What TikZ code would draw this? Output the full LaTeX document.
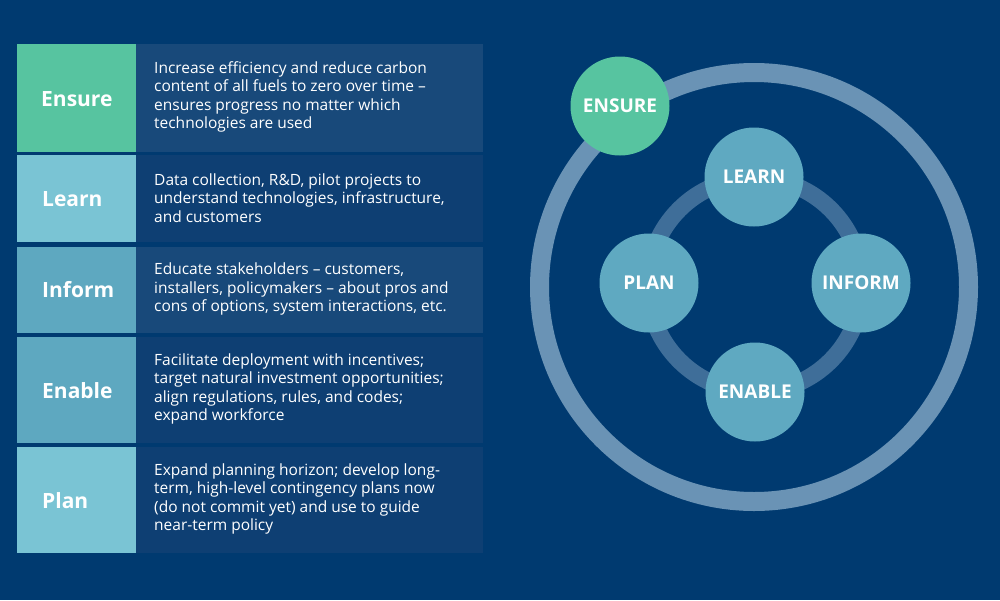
\documentclass[tikz,border=0pt]{standalone}
\usepackage{fontspec}
\setmainfont{Open Sans}
\definecolor{navy}{RGB}{0,58,112}
\definecolor{descA}{RGB}{24,73,122}
\definecolor{descB}{RGB}{14,63,115}
\definecolor{cgreen}{RGB}{87,196,160}
\definecolor{clight}{RGB}{122,196,212}
\definecolor{cmid}{RGB}{94,168,192}
\definecolor{ccirc}{RGB}{95,169,193}
\definecolor{outerring}{RGB}{106,147,181}
\definecolor{innerring}{RGB}{63,110,153}
\tikzset{
  desctext/.style={anchor=west, align=left, text=white, inner sep=0pt,
    font=\fontsize{15.5}{18.3}\selectfont},
  labeltext/.style={anchor=west, text=white, inner sep=0pt,
    font=\fontsize{21}{24}\selectfont\bfseries},
  stage/.style={circle, minimum size=99pt, inner sep=0pt, fill=ccirc, text=white,
    font=\fontsize{19}{22}\selectfont\bfseries},
}
\begin{document}
\begin{tikzpicture}[x=1pt,y=-1pt]
\fill[navy] (0,0) rectangle (1000,600);
\useasboundingbox (0,0) rectangle (1000,600);
% table rows
\fill[cgreen] (17,44) rectangle (136,152);
\fill[descA] (136,44) rectangle (483,152);
\fill[clight] (17,155) rectangle (136,242);
\fill[descB] (136,155) rectangle (483,242);
\fill[cmid] (17,247) rectangle (136,333);
\fill[descA] (136,247) rectangle (483,333);
\fill[cmid] (17,337) rectangle (136,443);
\fill[descB] (136,337) rectangle (483,443);
\fill[clight] (17,447) rectangle (136,553);
\fill[descB] (136,447) rectangle (483,553);
% labels
\node[labeltext] (lensure) at (41,99) {Ensure};
\node[labeltext] (llearn) at (42,199) {Learn};
\node[labeltext] (linform) at (42,290) {Inform};
\node[labeltext] (lenable) at (42,391) {Enable};
\node[labeltext] (lplan) at (42,501) {Plan};
% descriptions
\node[desctext] (densure) at (154,97) {Increase efficiency and reduce carbon\\content of all fuels to zero over time --\\ensures progress no matter which\\technologies are used};
\node[desctext] (dlearn) at (154,198) {Data collection, R\&D, pilot projects to\\understand technologies, infrastructure,\\and customers};
\node[desctext] (dinform) at (154,289) {Educate stakeholders -- customers,\\installers, policymakers -- about pros and\\cons of options, system interactions, etc.};
\node[desctext] (denable) at (154,389) {Facilitate deployment with incentives;\\target natural investment opportunities;\\align regulations, rules, and codes;\\expand workforce};
\node[desctext] (dplan) at (154,499) {Expand planning horizon; develop long-\\term, high-level contingency plans now\\(do not commit yet) and use to guide\\near-term policy};
% rings
\coordinate (ctr) at (754,287);
\draw[outerring, line width=19pt] (ctr) circle[radius=214.5];
\draw[innerring, line width=17pt] (755,285) circle[radius=107];
% circles
\node[stage] (learn) at (754,177) {LEARN};
\node[stage] (plan) at (649,283) {PLAN};
\node[stage] (inform) at (861,283) {INFORM};
\node[stage] (enable) at (755,392) {ENABLE};
\node[stage, fill=cgreen] (ensure) at (620,106) {ENSURE};
\end{tikzpicture}
\end{document}
